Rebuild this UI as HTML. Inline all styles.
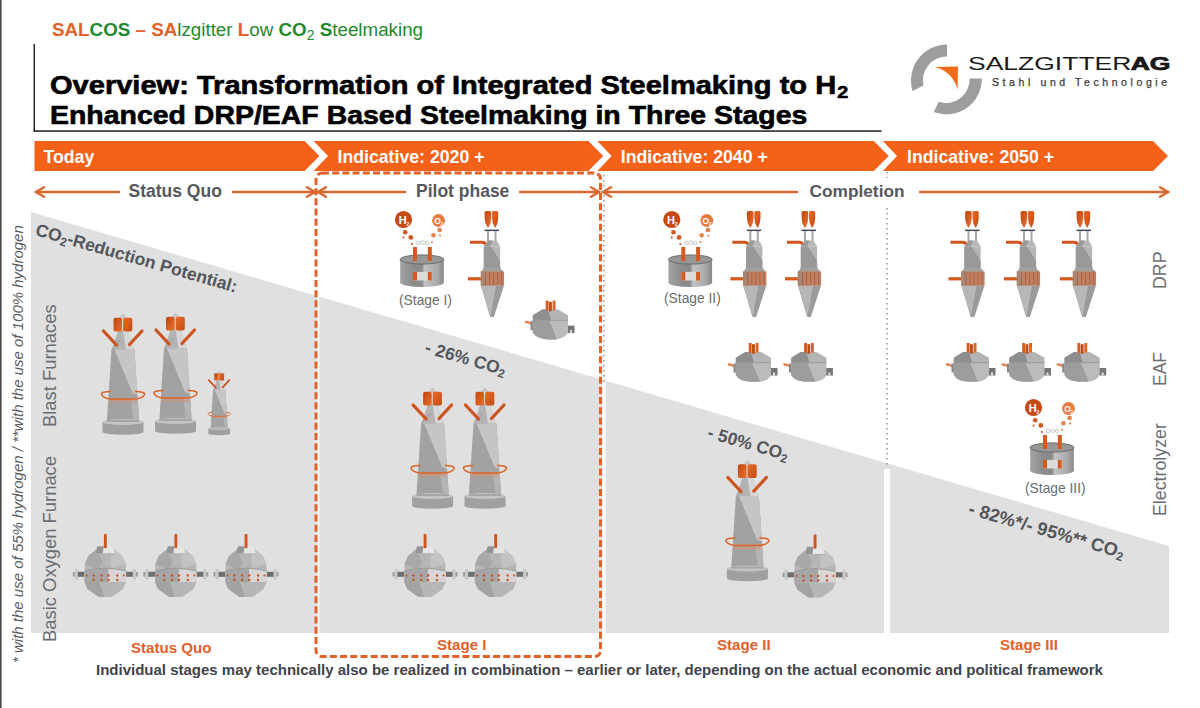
<!DOCTYPE html>
<html><head><meta charset="utf-8">
<style>
html,body{margin:0;padding:0;background:#fff;}
body{width:1200px;height:708px;position:relative;overflow:hidden;font-family:"Liberation Sans",sans-serif;}
.t{position:absolute;white-space:nowrap;line-height:1;}
.b{font-weight:bold;}
.or{color:#e6602a;}
.gr{color:#24892e;}
.g5{color:#55585d;}
.rot{transform-origin:0 0;}
svg{position:absolute;left:0;top:0;}
</style></head><body>
<svg width="1200" height="708" viewBox="0 0 1200 708">
<defs>
  <linearGradient id="orL" x1="0" y1="0" x2="1" y2="1"><stop offset="0" stop-color="#c0460f"/><stop offset="1" stop-color="#e8702c"/></linearGradient>
  <linearGradient id="orR" x1="0" y1="0" x2="1" y2="1"><stop offset="0" stop-color="#e56b28"/><stop offset="1" stop-color="#c64b14"/></linearGradient>
  <linearGradient id="cyl" x1="0" y1="0" x2="1" y2="0">
    <stop offset="0" stop-color="#a3a3a3"/><stop offset="0.3" stop-color="#8c8c8c"/><stop offset="0.5" stop-color="#8a8a8a"/><stop offset="0.56" stop-color="#c3c3c3"/><stop offset="0.85" stop-color="#a9a9a9"/><stop offset="1" stop-color="#878787"/>
  </linearGradient>
  <!-- Blast furnace: center x=0, top y=0, height ~121 -->
  <g id="bf">
    <polygon points="-4.5,4.5 0,-0.5 4.5,4.5" fill="#c6c6c6"/>
    <polygon points="-4.5,16 4.5,16 11.5,36 -11.5,36" fill="#b3b3b3"/>
    <polygon points="0,16 4.5,16 11.5,36 3,36" fill="#d6d6d6"/>
    <line x1="-11" y1="35" x2="-2" y2="25" stroke="#777" stroke-width="0.6" opacity="0.6"/>
    <rect x="-9.5" y="3.8" width="8.6" height="13.8" rx="2" fill="url(#orL)"/>
    <rect x="0.1" y="3.8" width="9.2" height="13.8" rx="2" fill="url(#orR)"/>
    <line x1="-19.5" y1="17" x2="-6.5" y2="31" stroke="#cc5420" stroke-width="3.3" stroke-linecap="round"/>
    <line x1="19" y1="17" x2="6.5" y2="30.5" stroke="#cc5420" stroke-width="3.3" stroke-linecap="round"/>
    <polygon points="-11.5,35.5 11.5,35.5 16.2,108 -16.2,108" fill="#a2a2a2"/>
    <polygon points="-8.5,35.5 11.5,35.5 14.5,81 9.5,79" fill="#c5c5c5"/>
    <polygon points="7.5,85 14.8,85 16.2,108 11,108" fill="#b4b4b4"/>
    <rect x="-14" y="84" width="28" height="5" fill="#d49070" opacity="0.45"/>
    <path d="M-12,77.5 Q-22,77.5 -21.5,80.5 Q-20,84 -12.5,85 L12.5,85 Q20,84 21.5,80.5 Q22,77.5 12,77.5" fill="none" stroke="#dd6428" stroke-width="1.6"/>
    <rect x="-20.5" y="108" width="41" height="10" fill="#a0a0a0"/>
    <ellipse cx="0" cy="118" rx="20.5" ry="2.8" fill="#a0a0a0"/>
    <ellipse cx="0" cy="108" rx="20.5" ry="3" fill="#c4c4c4"/>
    <polygon points="-16.5,108 16.5,108 16,106 -16,106" fill="#a6a6a6"/>
  </g>
  <!-- BOF converter: center x=0, lance top y=0, height ~64 -->
  <g id="bof">
    <rect x="-29.5" y="37.8" width="59" height="5" fill="#6e6e6e"/>
    <rect x="-30.5" y="35" width="3" height="10.5" fill="#c8c8c8"/>
    <rect x="27.5" y="35" width="3" height="10.5" fill="#c8c8c8"/>
    <rect x="-32.5" y="38" width="2" height="4.5" fill="#9d9d9d"/>
    <rect x="30.5" y="38" width="2" height="4.5" fill="#9d9d9d"/>
    <polygon points="-9,15.5 9,15.5 17,22 20.5,30 20.8,48 17.7,55 6.5,63 -6.5,63 -17.7,55 -20.8,48 -20.5,30 -17,22" fill="#b6b6b6"/>
    <polygon points="-20.5,30 -17,22 -9,15.5 -3,28 -7,36" fill="#a8a8a8"/>
    <polygon points="-20.8,48 -6,48 -1,63 -6.5,63 -17.7,55" fill="#a3a3a3"/>
    <polygon points="5,15.5 9,15.5 17,22 20.5,30 6,34" fill="#c3c3c3"/>
    <path d="M-20.8,37 Q0,31.5 20.8,37 L20.8,48 L-20.8,48 Z" fill="#d8d5d4"/>
    <path d="M-20.8,37 Q-8,33.6 3,33.5 L3,48 L-20.8,48 Z" fill="#a6a6a6"/>
    <path d="M-20.8,37 Q0,31.5 20.8,37" fill="none" stroke="#9c9c9c" stroke-width="1"/>
    <g fill="#c5532c">
      <circle cx="-18.5" cy="41.5" r="1.1"/><circle cx="-11.6" cy="41.5" r="1.2"/><circle cx="-3.8" cy="41.5" r="1.2"/><circle cx="3.2" cy="41.5" r="1.2"/><circle cx="12" cy="41.5" r="1.2"/><circle cx="18.5" cy="41.5" r="1.1"/>
      <circle cx="-11.6" cy="46" r="1.2"/><circle cx="-3.8" cy="46" r="1.2"/><circle cx="3.2" cy="46" r="1.2"/><circle cx="12" cy="46" r="1.2"/>
    </g>
    <polygon points="-8,12.3 7,12.3 10,19.5 -10,19.5" fill="#e6e6e6"/>
    <polygon points="-8,12.3 -1.5,12.3 -2.5,19.5 -10,19.5" fill="#949494"/>
    <polygon points="-10,19.5 10,19.5 9.5,20.5 -9.5,20.5" fill="#b0b0b0"/>
    <rect x="-1.4" y="0" width="2.9" height="14.3" rx="1" fill="#d0551e"/>
  </g>
  <!-- EAF: center x=0, electrode top y=0, height ~39 -->
  <g id="eaf">
    <path d="M-26,21.5 Q-22,21 -19,24" fill="none" stroke="#e6834f" stroke-width="2.4"/>
    <rect x="-20.5" y="20.5" width="3" height="9" fill="#8a8a8a"/>
    <rect x="16.5" y="25" width="7" height="7.5" fill="#757575"/>
    <rect x="19" y="29.5" width="2" height="3" fill="#e2e2e2"/>
    <path d="M-18.2,19.5 L17,19.5 L17,32 Q14,38.5 4,38.8 L-4,38.8 Q-15,38 -18.2,32 Z" fill="#bbbbbb"/>
    <path d="M-18.2,19.5 L-2,19.5 L6,38.8 L-4,38.8 Q-15,38 -18.2,32 Z" fill="#9d9d9d"/>
    <polygon points="-8.7,8.9 6.9,8.9 17,14.7 17,20 -18.2,20 -18.2,14.7" fill="#b4b4b4"/>
    <polygon points="-8.7,8.9 -3,8.9 0,20 -18.2,20 -18.2,14.7" fill="#8e8e8e"/>
    <rect x="-18.2" y="19.2" width="35.2" height="1" fill="#9a9a9a"/>
    <rect x="-5.3" y="0" width="2.9" height="9.5" fill="#d65a1e"/>
    <rect x="-2" y="1.2" width="2.9" height="9.5" fill="#c24c16"/>
    <rect x="1.6" y="0" width="2.9" height="9.5" fill="#dc6425"/>
  </g>
  <!-- DRP: center x=0, funnel top y=0, height ~107 -->
  <g id="drp">
    <path d="M-7.4,1.5 Q-7.4,0 -6,0 L-2.2,0 Q-0.8,0 -0.8,1.5 L-0.8,7 Q-0.8,12 -3.6,16.5 L-4.4,16.5 Q-7.4,12 -7.4,7 Z" fill="url(#orL)"/>
    <path d="M0,1.5 Q0,0 1.4,0 L4.8,0 Q6.2,0 6.2,1.5 L6.2,7 Q6.2,12 3.6,16.5 L2.8,16.5 Q0,12 0,7 Z" fill="url(#orR)"/>
    <rect x="-7.5" y="18.6" width="14.5" height="1.4" fill="#3f4650"/>
    <polygon points="-6,20 -2,20 -3.5,23 -4.5,23" fill="#b8b8b8"/>
    <polygon points="1.5,20 5.5,20 4,23 3,23" fill="#b8b8b8"/>
    <rect x="-5" y="22" width="2" height="9" fill="#a5a5a5"/>
    <rect x="2.5" y="22" width="2" height="9" fill="#a5a5a5"/>
    <path d="M-22,31.3 L-10,31.3 Q-7,31.3 -5.5,34" fill="none" stroke="#cf561f" stroke-width="3"/>
    <polygon points="-3.5,29.5 4.5,29.5 8.2,35.5 -8.2,35.5" fill="#b7b7b7"/>
    <polygon points="-3.5,29.5 0.5,29.5 -2,35.5 -8.2,35.5" fill="#9a9a9a"/>
    <rect x="-8.2" y="35.5" width="16.3" height="25.5" fill="#b5b5b5"/>
    <polygon points="-8.2,35.5 -1,35.5 8.1,50 8.1,61 -8.2,61" fill="#999999"/>
    <polygon points="-8.2,56.8 8.1,56.8 12.1,61.5 -11.2,61.5" fill="#a0a0a0"/>
    <rect x="-24" y="66.2" width="13" height="3.2" fill="#d65a1e"/>
    <path d="M-11,74.6 L12,74.6 L2,105.5 Q0,107 -2,105.5 Z" fill="#9b9b9b"/>
    <polygon points="-11,74.6 4,74.6 -1.5,105" fill="#b7b7b7"/>
    <rect x="-11.2" y="60.5" width="23.3" height="14.1" fill="#c08063"/>
    <rect x="-11.2" y="60.5" width="6" height="14.1" fill="#a88676"/>
    <g fill="#ad6544"><rect x="-7" y="61" width="1.1" height="13.5"/><rect x="-3" y="61" width="1.1" height="13.5"/><rect x="1" y="61" width="1.1" height="13.5"/><rect x="5" y="61" width="1.1" height="13.5"/><rect x="9" y="61" width="1.1" height="13.5"/></g>
  </g>
  <!-- Electrolyzer: center x=0 (cylinder), H2 center y=0 -->
  <g id="ely">
    <circle cx="-18.5" cy="-1" r="8.6" fill="#c44a18"/>
    <text x="-23.3" y="3.2" font-family="Liberation Sans" font-weight="bold" font-size="11" fill="#fff">H</text>
    <text x="-15.6" y="5.2" font-family="Liberation Sans" font-weight="bold" font-size="5" fill="#fff">2</text>
    <circle cx="16.5" cy="0" r="6.4" fill="#e67a40"/>
    <text x="12.2" y="3.4" font-family="Liberation Sans" font-weight="bold" font-size="8.5" fill="#fff">O</text><text x="18.6" y="5" font-family="Liberation Sans" font-weight="bold" font-size="4.5" fill="#fff">2</text>
    <g fill="#cf5820">
      <circle cx="-16.8" cy="11.8" r="2.3"/><circle cx="-11.2" cy="16.9" r="2.4"/><circle cx="-18.5" cy="17" r="1.1"/><circle cx="-10" cy="23.5" r="1.1"/>
    </g>
    <g fill="#e3814a">
      <circle cx="17.6" cy="9.5" r="2.3"/><circle cx="11.4" cy="14.7" r="2.2"/><circle cx="18" cy="15" r="1.1"/><circle cx="10" cy="21.5" r="1"/>
    </g>
    <g fill="none" stroke="#c2c2c2" stroke-width="0.9">
      <circle cx="-4" cy="22.5" r="1.8"/><circle cx="0.5" cy="22" r="1.8"/><circle cx="5" cy="22.5" r="1.6"/>
    </g>
    <rect x="-21.8" y="39" width="43.6" height="23" fill="url(#cyl)"/>
    <ellipse cx="0" cy="62" rx="21.8" ry="4.6" fill="url(#cyl)"/>
    <ellipse cx="0" cy="39" rx="21.8" ry="4.6" fill="#979797" stroke="#6b6b6b" stroke-width="1"/>
    <rect x="-9" y="26.5" width="4" height="14" fill="#d35a20"/>
    <rect x="5.8" y="26.5" width="4" height="14" fill="#d35a20"/>
    <rect x="-9" y="51.4" width="18.7" height="8.6" fill="#dcdcdc"/>
    <rect x="-9" y="51.4" width="4" height="8.6" fill="#d35a20"/>
    <rect x="5.8" y="51.4" width="3.9" height="8.6" fill="#d35a20"/>
  </g>
</defs>

  <rect x="0" y="0" width="1.6" height="708" fill="#4a4a4a"/>
  <rect x="33.5" y="44" width="1.5" height="87.5" fill="#2a2a2a"/>
  <rect x="33.5" y="130.3" width="848" height="1.5" fill="#1c1c1c"/>
  <polygon points="31,212 1169,546 1169,633 31,633" fill="#e0e0e0"/>
  <rect x="602.5" y="382" width="3" height="251" fill="#fff"/>
  <rect x="884" y="469" width="6" height="164" fill="#fff"/>
  <g fill="#f46118">
    <polygon points="34.5,141 304.6,141 319.4,156 304.6,171 34.5,171"/>
    <polygon points="313.6,141 588.4,141 603.2,156 588.4,171 313.6,171 328,156"/>
    <polygon points="597.3,141 873.8,141 888.8,156 873.8,171 597.3,171 611.6,156"/>
    <polygon points="882.9,141 1153,141 1168,156 1153,171 882.9,171 897,156"/>
  </g>
  <g stroke="#d9662f" stroke-width="2.4" fill="none" stroke-linecap="round">
    <line x1="36" y1="192" x2="119" y2="192"/><polyline points="44,187.2 36,192 44,196.8"/><line x1="233" y1="192" x2="315" y2="192"/><polyline points="307,187.2 315,192 307,196.8"/>
    <line x1="318" y1="192" x2="405" y2="192"/><polyline points="326,187.2 318,192 326,196.8"/><line x1="520" y1="192" x2="599" y2="192"/><polyline points="591,187.2 599,192 591,196.8"/>
    <line x1="603" y1="192" x2="797" y2="192"/><polyline points="611,187.2 603,192 611,196.8"/><line x1="920" y1="192" x2="1168" y2="192"/><polyline points="1160,187.2 1168,192 1160,196.8"/>
  </g>
  <line x1="887" y1="172" x2="887" y2="178" stroke="#9a9a9a" stroke-width="1.6" stroke-dasharray="1.6,3.4"/><line x1="887" y1="208" x2="887" y2="468" stroke="#9a9a9a" stroke-width="1.6" stroke-dasharray="1.6,3.4"/>
  <line x1="603.8" y1="175" x2="603.8" y2="384" stroke="#9a9a9a" stroke-width="1.6" stroke-dasharray="1.6,3.4"/>
  <rect x="317.3" y="280" width="2" height="353" fill="#fff"/>
  <rect x="316" y="173" width="284.5" height="483.5" rx="6" ry="6" fill="none" stroke="#e3612a" stroke-width="3" stroke-dasharray="7,3.2"/>
  <g>
    <path d="M947,44.5 A36,36 0 0 0 912.6,91 L923.4,85.6 A24,24 0 0 1 947,56.5 Z" fill="#9d9d9d"/>
    <path d="M981.8,78.4 A35.3,35.3 0 0 1 933.8,112 L938.8,101.8 A23.5,23.5 0 0 0 969.6,78.4 Z" fill="#9d9d9d"/>
    <path d="M935,67 L958,66.6 L957.6,89.8 Q953,72 935,67 Z" fill="#f26a1b"/>
  </g>

  <use href="#bf" transform="translate(123,314)"/>
  <use href="#bf" transform="translate(175.5,313)"/>
  <use href="#bf" transform="translate(219.2,371.2) scale(0.53)"/>
  <use href="#bof" transform="translate(105.3,534)"/>
  <use href="#bof" transform="translate(175.8,534)"/>
  <use href="#bof" transform="translate(246,534)"/>
  <use href="#ely" transform="translate(422,220.5)"/>
  <use href="#drp" transform="translate(492,211)"/>
  <use href="#eaf" transform="translate(551,300.6)"/>
  <use href="#bf" transform="translate(432.6,388)"/>
  <use href="#bf" transform="translate(485,388)"/>
  <use href="#bof" transform="translate(425,534)"/>
  <use href="#bof" transform="translate(495.6,534)"/>
  <use href="#ely" transform="translate(690.3,220.5)"/>
  <use href="#drp" transform="translate(754.3,211)"/>
  <use href="#drp" transform="translate(809,211)"/>
  <use href="#eaf" transform="translate(754,343)"/>
  <use href="#eaf" transform="translate(809.4,343)"/>
  <use href="#bf" transform="translate(747.4,460.5)"/>
  <use href="#bof" transform="translate(815,534.5)"/>
  <use href="#drp" transform="translate(972.5,211)"/>
  <use href="#drp" transform="translate(1028,211)"/>
  <use href="#drp" transform="translate(1084,211)"/>
  <use href="#eaf" transform="translate(972,343)"/>
  <use href="#eaf" transform="translate(1027.5,343)"/>
  <use href="#eaf" transform="translate(1082.7,343)"/>
  <use href="#ely" transform="translate(1052,408.5)"/>


  <g font-family="Liberation Sans" font-weight="bold" fill="#53565b" font-size="17.5">
    <text transform="translate(34.5,235) rotate(16)">CO<tspan font-size="12" dy="3">2</tspan><tspan dy="-3">-Reduction Potential:</tspan></text>
    <text transform="translate(424,352.5) rotate(16)">- 26% CO<tspan font-size="12" dy="3">2</tspan></text>
    <text transform="translate(706.5,437.5) rotate(16)">- 50% CO<tspan font-size="12" dy="3">2</tspan></text>
    <text transform="translate(967.5,514) rotate(16)" font-size="18.3">- 82%*/- 95%** CO<tspan font-size="12" dy="3">2</tspan></text>
  </g>
</svg>

<div class="t b" style="left:52px;top:20.5px;font-size:18.8px;"><span class="or">SAL</span><span class="gr">COS</span><span class="or"> – </span><span class="or">SA</span><span class="gr" style="font-weight:normal">lzgitter </span><span class="or">L</span><span class="gr" style="font-weight:normal">ow </span><span class="gr">CO<sub style="font-size:14px;font-weight:normal;vertical-align:-4px">2</sub> S</span><span class="gr" style="font-weight:normal">teelmaking</span></div>

<div class="t b" style="left:49.5px;top:72.5px;font-size:25px;color:#000;-webkit-text-stroke:0.6px #000;transform:scaleX(1.162);transform-origin:0 0;">Overview: Transformation of Integrated Steelmaking to H<sub style="font-size:17px;vertical-align:-4px;margin-left:1px">2</sub></div>
<div class="t b" style="left:49.5px;top:102.5px;font-size:25px;color:#000;-webkit-text-stroke:0.6px #000;transform:scaleX(1.138);transform-origin:0 0;">Enhanced DRP/EAF Based Steelmaking in Three Stages</div>

<div class="t b" style="left:43.5px;top:149.2px;font-size:17.7px;color:#fff;">Today</div>
<div class="t b" style="left:337.5px;top:149.2px;font-size:17.7px;color:#fff;">Indicative: 2020 +</div>
<div class="t b" style="left:620.8px;top:149.2px;font-size:17.7px;color:#fff;">Indicative: 2040 +</div>
<div class="t b" style="left:907px;top:149.2px;font-size:17.7px;color:#fff;">Indicative: 2050 +</div>

<div class="t b g5" style="left:128.5px;top:182.8px;font-size:17.5px;">Status Quo</div>
<div class="t b g5" style="left:416px;top:182.8px;font-size:17.5px;">Pilot phase</div>
<div class="t b g5" style="left:809.5px;top:182.8px;font-size:17.3px;">Completion</div>

<div class="t b or" style="left:131px;top:640px;font-size:15.1px;">Status Quo</div>
<div class="t b or" style="left:437px;top:637px;font-size:15.1px;">Stage I</div>
<div class="t b or" style="left:717px;top:637px;font-size:15.1px;">Stage II</div>
<div class="t b or" style="left:1000px;top:637px;font-size:15.1px;">Stage III</div>

<div class="t b" style="left:96px;top:662px;font-size:15px;color:#41444a;">Individual stages may technically also be realized in combination – earlier or later, depending on the actual economic and political framework</div>

<div class="t" style="left:968.3px;top:56px;font-size:17.8px;color:#1a1a1a;transform:scaleX(1.49);transform-origin:0 0;">SALZGITTER<span style="font-weight:900;-webkit-text-stroke:0.7px #111;margin-left:-0.5px">AG</span></div>
<div class="t" style="left:992px;top:77px;font-size:10.5px;color:#3a3a3a;letter-spacing:3.6px;-webkit-text-stroke:0.25px #3a3a3a;">Stahl und Technologie</div>

<div class="t rot" style="left:10px;top:663px;font-size:15px;font-style:italic;color:#5a5d62;transform:rotate(-90deg);">* with the use of 55% hydrogen / **with the use of 100% hydrogen</div>
<div class="t rot" style="left:41px;top:427px;font-size:18.4px;color:#6a6d72;transform:rotate(-90deg);">Blast Furnaces</div>
<div class="t rot" style="left:41px;top:642px;font-size:18.4px;color:#6a6d72;transform:rotate(-90deg);">Basic Oxygen Furnace</div>
<div class="t rot" style="left:1151.5px;top:289px;font-size:17.8px;color:#6a6d72;transform:rotate(-90deg);">DRP</div>
<div class="t rot" style="left:1151.5px;top:386px;font-size:17.5px;color:#6a6d72;transform:rotate(-90deg);">EAF</div>
<div class="t rot" style="left:1151.5px;top:516px;font-size:17.8px;color:#6a6d72;transform:rotate(-90deg);">Electrolyzer</div>
<div class="t" style="left:399px;top:294px;font-size:13.8px;color:#6a6d72;">(Stage I)</div>
<div class="t" style="left:664px;top:291.5px;font-size:13.8px;color:#6a6d72;">(Stage II)</div>
<div class="t" style="left:1025px;top:482px;font-size:13.8px;color:#6a6d72;">(Stage III)</div>

</body></html>
